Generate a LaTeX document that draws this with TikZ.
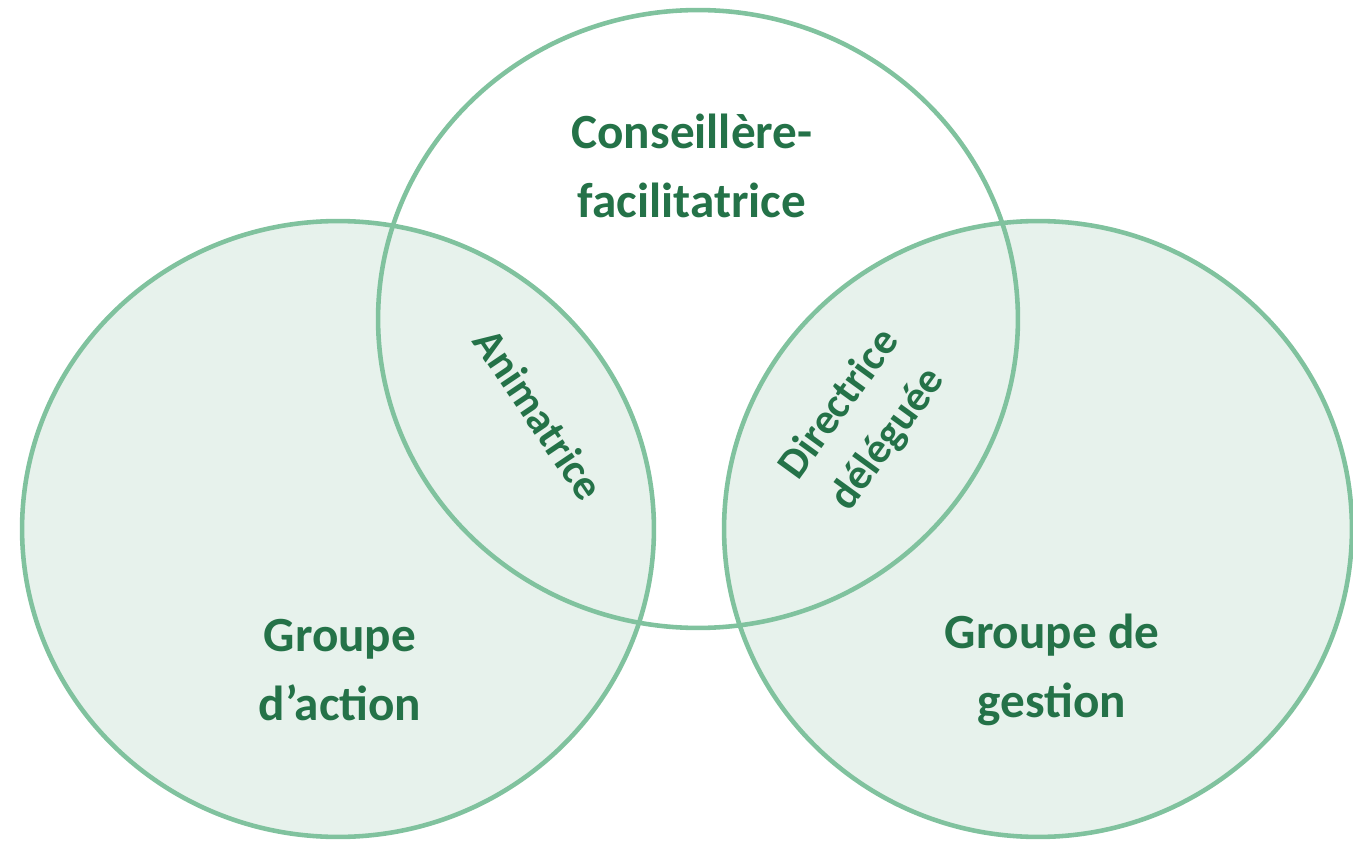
\documentclass[tikz,border=0pt]{standalone}
\usepackage{fontspec}
\setmainfont{Carlito}
\definecolor{ringgreen}{RGB}{128,194,158}
\definecolor{zonegreen}{RGB}{231,242,236}
\definecolor{textgreen}{RGB}{36,114,72}
\tikzstyle{ring} = [draw=ringgreen, line width=2.6pt]
\tikzstyle{zone} = [fill=zonegreen]
\tikzstyle{role} = [text=textgreen, font=\fontsize{28}{39}\selectfont\bfseries, align=center, inner sep=0pt]
\tikzstyle{slanted} = [role, font=\fontsize{24.5}{34}\selectfont\bfseries]

\begin{document}
\begin{tikzpicture}[x=0.02cm, y=-0.02cm]
\useasboundingbox (0,0) rectangle (1353,841);
% fills of the two lower circles
\path [zone] (338,529) ellipse [x radius=6.32cm, y radius=6.16cm];
\path [zone] (1038,529) ellipse [x radius=6.28cm, y radius=6.16cm];
% outlines
\draw [ring] (338,529) ellipse [x radius=6.32cm, y radius=6.16cm];
\draw [ring] (1038,529) ellipse [x radius=6.28cm, y radius=6.16cm];
\draw [ring] (698,319) ellipse [x radius=6.4cm, y radius=6.18cm];
% texts
\node [role] (conseil) at (692,166) {Conseillère-\\facilitatrice};
\node [role] (action) at (340,670) {Groupe\\d’action};
\node [role] (gestion) at (1052,670) {Groupe de\\gestion};
\node [slanted, rotate=-56] (anim) at (539,414) {Animatrice};
\node [slanted, rotate=54] (direct) at (864,422) {Directrice\\déléguée};
\end{tikzpicture}
\end{document}
